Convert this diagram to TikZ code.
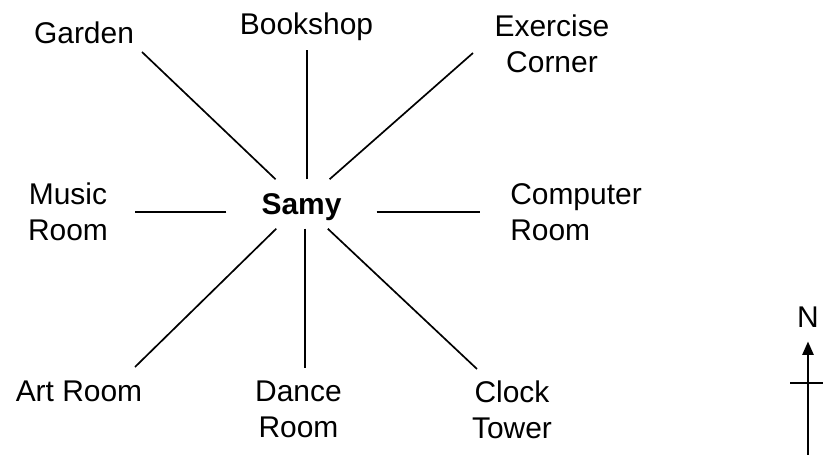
\documentclass[tikz,border=0pt]{standalone}
\usepackage{fontspec}
\setmainfont{Liberation Sans}
\usetikzlibrary{arrows.meta}
\newcommand{\placefont}{\fontsize{21.3}{25.6}\selectfont}

\begin{document}
\begin{tikzpicture}[
	place/.style={font=\placefont, align=center, inner sep=0pt, anchor=north},
	spoke/.style={line width=1.2pt},
]
	\useasboundingbox (-7.5375,-6.275) rectangle (13.0375,5.1);

	% Mitte
	\node[font=\placefont\bfseries, text depth=0pt, inner xsep=0.875cm, inner ysep=0.35cm] (Samy) at (0,0) {Samy};

	% Orte oben
	\node[place] (Garden) at (-5.4375,4.55) {Garden};
	\node[place] (Bookshop) at (0.125,4.775) {Bookshop};
	\node[place] (Exercise) at (6.2625,4.725) {Exercise\\Corner};

	% Orte Mitte
	\node[place] (Music) at (-5.8375,0.525) {Music\\Room};
	\node[place, anchor=north west, align=left] (Computer) at (5.2125,0.525) {Computer\\Room};

	% Orte unten
	\node[place] (Art) at (-5.5625,-4.425) {Art Room};
	\node[place] (Dance) at (-0.075,-4.425) {Dance\\Room};
	\node[place] (Clock) at (5.2625,-4.425) {Clock\\Tower};

	% Linienenden
	\coordinate (gE) at (-3.9875,3.8);
	\coordinate (bE) at (0.1375,3.85);
	\coordinate (eE) at (4.2875,3.775);
	\coordinate (mE) at (-4.1625,-0.2);
	\coordinate (cE) at (4.4625,-0.2);
	\coordinate (aE) at (-4.1625,-4.075);
	\coordinate (dE) at (0.0875,-4.1);
	\coordinate (tE) at (4.3875,-4.125);

	\draw[spoke] (Samy) -- (gE);
	\draw[spoke] (Samy.north -| bE) -- (bE);
	\draw[spoke] (Samy) -- (eE);
	\draw[spoke] (Samy.west |- mE) -- (mE);
	\draw[spoke] (Samy.east |- cE) -- (cE);
	\draw[spoke] (Samy) -- (aE);
	\draw[spoke] (Samy.south -| dE) -- (dE);
	\draw[spoke] (Samy) -- (tE);

	% Nordpfeil
	\node[font=\placefont, inner sep=0pt] (North) at (12.6625,-2.825) {N};
	\coordinate (nFoot) at (12.6625,-6.275);
	\coordinate (nW) at (12.2125,-4.475);
	\coordinate (nO) at (13.0375,-4.475);

	\draw[spoke, -{Triangle[length=0.33cm, width=0.28cm]}, shorten >=0.35cm] (nFoot) -- (North.south);
	\draw[spoke] (nW) -- (nO);
\end{tikzpicture}
\end{document}
